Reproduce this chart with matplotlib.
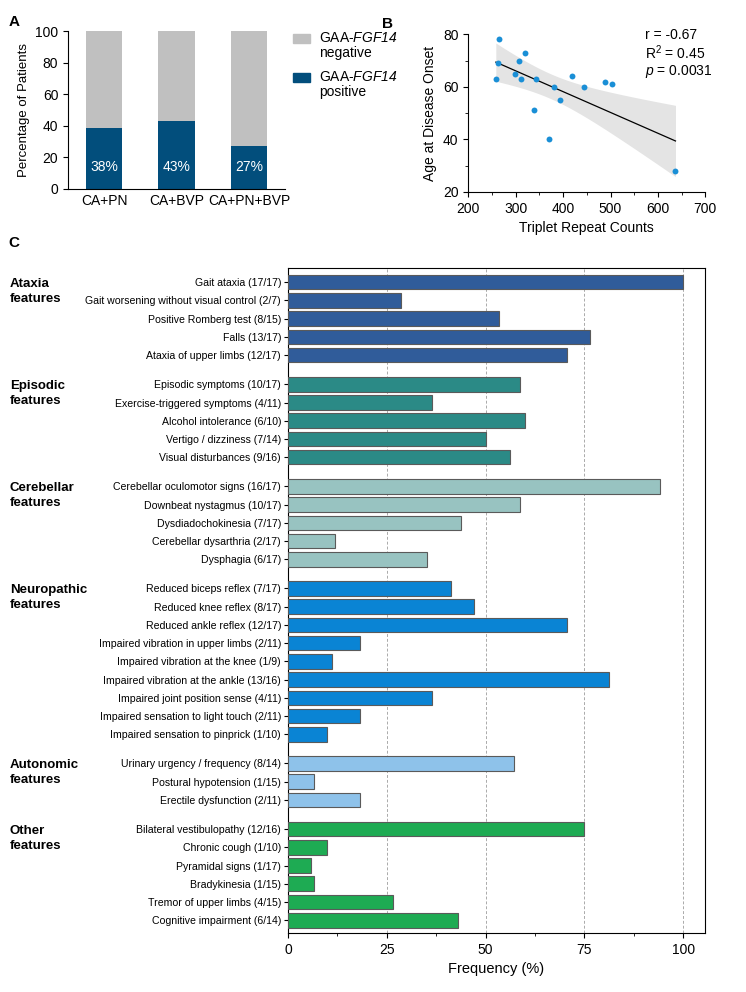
import matplotlib
matplotlib.use("Agg")
import matplotlib.pyplot as plt
from matplotlib.patches import Rectangle
from matplotlib.ticker import MultipleLocator
import numpy as np

plt.rcParams['font.family'] = ['Liberation Sans', 'DejaVu Sans']
plt.rcParams['mathtext.fontset'] = 'custom'
plt.rcParams['mathtext.rm'] = 'Liberation Sans'
plt.rcParams['mathtext.it'] = 'Liberation Sans:italic'
plt.rcParams['mathtext.sf'] = 'Liberation Sans:italic'

# ---- panel A data
groups_a = ["CA+PN", "CA+BVP", "CA+PN+BVP"]
positive_pct = [38.5, 43, 27.3]
positive_lbl = ["38%", "43%", "27%"]

# ---- panel B data
repeat_counts = [265, 262, 258, 319, 307, 299, 311, 343, 338, 381, 394, 371, 418, 443, 489, 504, 637]
onset_age = [78, 69, 63, 73, 70, 65, 63, 63, 51, 60, 55, 40, 64, 60, 62, 61, 28]

# ---- panel C data
group_names = ["Ataxia\nfeatures", "Episodic\nfeatures", "Cerebellar\nfeatures",
               "Neuropathic\nfeatures", "Autonomic\nfeatures", "Other\nfeatures"]
group_colors = ["#305c9a", "#2b8a86", "#98c3c1", "#0a84d4", "#8ec2ea", "#1eab53"]
features = [
    ["Gait ataxia (17/17)", "Gait worsening without visual control (2/7)",
     "Positive Romberg test (8/15)", "Falls (13/17)", "Ataxia of upper limbs (12/17)"],
    ["Episodic symptoms (10/17)", "Exercise-triggered symptoms (4/11)",
     "Alcohol intolerance (6/10)", "Vertigo / dizziness (7/14)", "Visual disturbances (9/16)"],
    ["Cerebellar oculomotor signs (16/17)", "Downbeat nystagmus (10/17)",
     "Dysdiadochokinesia (7/17)", "Cerebellar dysarthria (2/17)", "Dysphagia (6/17)"],
    ["Reduced biceps reflex (7/17)", "Reduced knee reflex (8/17)", "Reduced ankle reflex (12/17)",
     "Impaired vibration in upper limbs (2/11)", "Impaired vibration at the knee (1/9)",
     "Impaired vibration at the ankle (13/16)", "Impaired joint position sense (4/11)",
     "Impaired sensation to light touch (2/11)", "Impaired sensation to pinprick (1/10)"],
    ["Urinary urgency / frequency (8/14)", "Postural hypotension (1/15)",
     "Erectile dysfunction (2/11)"],
    ["Bilateral vestibulopathy (12/16)", "Chronic cough (1/10)", "Pyramidal signs (1/17)",
     "Bradykinesia (1/15)", "Tremor of upper limbs (4/15)", "Cognitive impairment (6/14)"],
]
frequency = [
    [100, 28.6, 53.3, 76.4, 70.6],
    [58.8, 36.4, 60, 50, 56.3],
    [94.1, 58.8, 43.7, 11.8, 35.3],
    [41.2, 47.1, 70.6, 18.2, 11.1, 81.2, 36.4, 18.2, 10],
    [57.1, 6.7, 18.2],
    [75, 10, 5.9, 6.7, 26.7, 42.9],
]

NEG_COL = "#c0c0c0"
POS_COL = "#024e7c"

fig = plt.figure(figsize=(7.46, 9.92), dpi=100)
W, H = 746.0, 992.0

# ================= A
ax_a = fig.add_axes([0.0912, 0.8095, 0.291, 0.159])
xa = np.arange(len(groups_a))
neg = [100 - v for v in positive_pct]
ax_a.bar(xa, positive_pct, width=0.5, color=POS_COL)
ax_a.bar(xa, neg, bottom=positive_pct, width=0.5, color=NEG_COL)
for x, lbl in zip(xa, positive_lbl):
    ax_a.text(x, 14, lbl, color="white", ha="center", va="center", fontsize=10)
ax_a.set_xlim(-0.5, 2.5)
ax_a.set_ylim(0, 100)
ax_a.set_yticks([0, 20, 40, 60, 80, 100])
ax_a.set_xticks(xa)
ax_a.set_xticklabels(groups_a, fontsize=10)
ax_a.tick_params(axis="y", labelsize=10)
ax_a.tick_params(axis="x", length=0)
ax_a.set_ylabel("Percentage of Patients", fontsize=9.5)
for s in ["top", "right"]:
    ax_a.spines[s].set_visible(False)

# legend drawn by hand so the swatch sits next to the first line
for (py, col, word) in [(38, NEG_COL, "negative"), (77, POS_COL, "positive")]:
    fig.patches.append(Rectangle((293 / W, 1 - (py + 4.5) / H), 17 / W, 9 / H,
                                 transform=fig.transFigure, color=col))
    fig.text(319 / W, 1 - py / H, "GAA-$\\mathsf{FGF14}$", va="center", ha="left", fontsize=10)
    fig.text(319 / W, 1 - (py + 15) / H, word, va="center", ha="left", fontsize=10)
fig.text(0.011, 0.985, "A", fontsize=11, fontweight="bold", va="top")

# ================= B
ax_b = fig.add_axes([0.6278, 0.8065, 0.3177, 0.159])
xb = np.array(repeat_counts, dtype=float)
yb = np.array(onset_age, dtype=float)
slope, icpt = np.polyfit(xb, yb, 1)
xs = np.linspace(xb.min(), xb.max(), 100)
fit = slope * xs + icpt
n = len(xb)
resid = yb - (slope * xb + icpt)
s_err = np.sqrt(np.sum(resid ** 2) / (n - 2))
se = s_err * np.sqrt(1 / n + (xs - xb.mean()) ** 2 / np.sum((xb - xb.mean()) ** 2))
ax_b.fill_between(xs, fit - 2.131 * se, fit + 2.131 * se, color="#e4e4e4", lw=0)
ax_b.plot(xs, fit, color="black", lw=0.9)
ax_b.scatter(xb, yb, s=18, color="#1a8fd6", zorder=3, lw=0)
ax_b.set_xlim(200, 700)
ax_b.set_ylim(20, 80)
ax_b.set_xticks([200, 300, 400, 500, 600, 700])
ax_b.set_yticks([20, 40, 60, 80])
ax_b.xaxis.set_minor_locator(MultipleLocator(50))
ax_b.yaxis.set_minor_locator(MultipleLocator(10))
ax_b.tick_params(labelsize=10)
ax_b.set_xlabel("Triplet Repeat Counts", fontsize=10)
ax_b.set_ylabel("Age at Disease Onset", fontsize=10)
for s in ["top", "right"]:
    ax_b.spines[s].set_visible(False)
ax_b.text(0.745, 1.04, "r = -0.67\nR$^2$ = 0.45\n$p$ = 0.0031", transform=ax_b.transAxes,
          va="top", ha="left", fontsize=10, linespacing=1.1)
fig.text(0.512, 0.983, "B", fontsize=11, fontweight="bold", va="top")

# ================= C
ax_c = fig.add_axes([0.386, 0.0595, 0.559, 0.670])
gap = 1.6
pos = 0.0
all_pos, all_lbl = [], []
for name, feats, vals, col in zip(group_names, features, frequency, group_colors):
    ys = pos + np.arange(len(feats))
    ax_c.barh(ys, vals, height=0.8, color=col, edgecolor="#5a5a5a", lw=0.8, zorder=3)
    all_pos.extend(ys)
    all_lbl.extend(feats)
    ax_c.text(-0.667, ys[0] + 0.5, name, transform=ax_c.get_yaxis_transform(),
              ha="left", va="center", fontsize=9.5, fontweight="bold", linespacing=1.3)
    pos = ys[-1] + gap
ax_c.set_yticks(all_pos)
ax_c.set_yticklabels(all_lbl, fontsize=7.6)
ax_c.set_ylim(all_pos[-1] + 0.7, -0.76)
ax_c.set_xlim(0, 105.5)
ax_c.set_xticks([0, 25, 50, 75, 100])
ax_c.xaxis.set_minor_locator(MultipleLocator(12.5))
ax_c.tick_params(axis="x", labelsize=10)
ax_c.tick_params(axis="y", length=3, pad=2)
for xv in [25, 50, 75, 100]:
    ax_c.axvline(xv, color="#aaaaaa", ls=(0, (3, 2)), lw=0.7, zorder=1)
ax_c.set_xlabel("Frequency (%)", fontsize=10.5)
fig.text(0.011, 0.762, "C", fontsize=11, fontweight="bold", va="top")

fig.savefig("out.png", dpi=100)
